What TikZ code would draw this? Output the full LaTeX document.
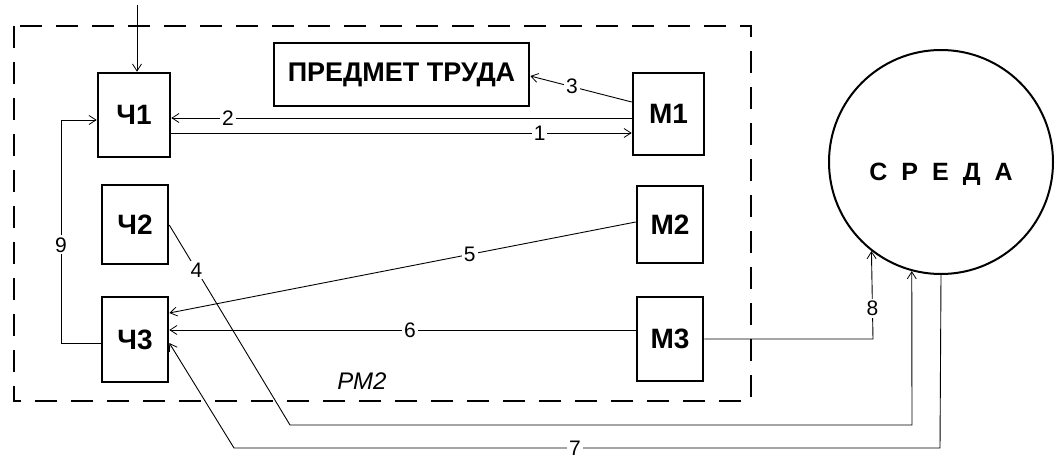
\documentclass[tikz,border=0pt]{standalone}
\usepackage{fontspec}
\setmainfont{Liberation Sans}
\usetikzlibrary{arrows.meta}
\begin{document}
\begin{tikzpicture}[x=1pt,y=-1pt,
  blk/.style={draw,line width=2.6pt,inner sep=0pt,font=\fontsize{28}{30}\selectfont\bfseries},
  arr/.style={line width=0.9pt,-{Straight Barb[length=7pt,width=9pt,line width=0.8pt]}},
  ln/.style={line width=0.9pt},
  lbl/.style={fill=white,inner sep=2pt,font=\fontsize{21}{22}\selectfont}]
\useasboundingbox (0,0) rectangle (1055,458);
% dashed frame
\draw[line width=1.4pt,dash pattern=on 22pt off 14pt] (14,26) rectangle (751,401);
% blocks
\node[blk,minimum width=72pt,minimum height=84pt] (ch1) at (134,115) {Ч1};
\node[blk,minimum width=66pt,minimum height=79pt] (ch2) at (135,224.5) {Ч2};
\node[blk,minimum width=66pt,minimum height=85pt] (ch3) at (135,339.5) {Ч3};
\node[blk,minimum width=71pt,minimum height=82pt] (m1) at (668.5,114) {М1};
\node[blk,minimum width=66pt,minimum height=77pt] (m2) at (670,224.5) {М2};
\node[blk,minimum width=66pt,minimum height=84pt] (m3) at (670,339) {М3};
\node[blk,minimum width=255pt,minimum height=63pt,font=\fontsize{27}{29}\selectfont\bfseries] (pt) at (401.5,74.5) {ПРЕДМЕТ ТРУДА};
\node[draw,circle,line width=2pt,minimum size=224pt,inner sep=0pt,font=\fontsize{25}{27}\selectfont\bfseries] (sreda) at (941,162)
  {\raisebox{-12pt}[\height][\depth]{С\hspace{14pt}Р\hspace{14pt}Е\hspace{14pt}Д\hspace{14pt}А}};
\node[font=\fontsize{24}{25}\selectfont\itshape] (rm2) at (362,381) {РМ2};
% coordinates
\coordinate (in) at (137,5);
\coordinate (c9a) at (61,343);
\coordinate (c9b) at (61,120);
\coordinate (c4a) at (290,425);
\coordinate (c4b) at (912,425);
\coordinate (c7a) at (940,448);
\coordinate (c7b) at (234,448);
\coordinate (c8) at (873,339);
% connectors
\draw[arr] (in) -- (in |- ch1.north);
\draw[arr] (m1.west |- 0,118) -- node[lbl,pos=0.877]{2} (ch1.east |- 0,118);
\draw[arr] (ch1.east |- 0,133) -- node[lbl,pos=0.80]{1} (m1.west |- 0,133);
\draw[arr] (m1.west |- 0,102) -- node[lbl,pos=0.59]{3} (pt.east |- 0,76);
\draw[arr] (ch3.west |- 0,343) -- (c9a) -- node[lbl,pos=0.44]{9} (c9b) -- (ch1.west |- 0,120);
\draw[arr] (ch2.east |- 0,225) -- node[lbl,pos=0.225]{4} (c4a) -- (c4b) -- (sreda.255);
\draw[arr] (m2.west |- 0,222) -- node[lbl,pos=0.356]{5} (ch3.east |- 0,313);
\draw[arr] (m3.west |- 0,330) -- node[lbl,pos=0.484]{6} (ch3.east |- 0,330);
\draw[arr] (sreda.270) -- (c7a) -- node[lbl,pos=0.517]{7} (c7b) -- (ch3.east |- 0,343);
\draw[arr] (m3.east |- 0,339) -- (c8) -- node[lbl,pos=0.35]{8} (sreda.232.6);
\end{tikzpicture}
\end{document}
